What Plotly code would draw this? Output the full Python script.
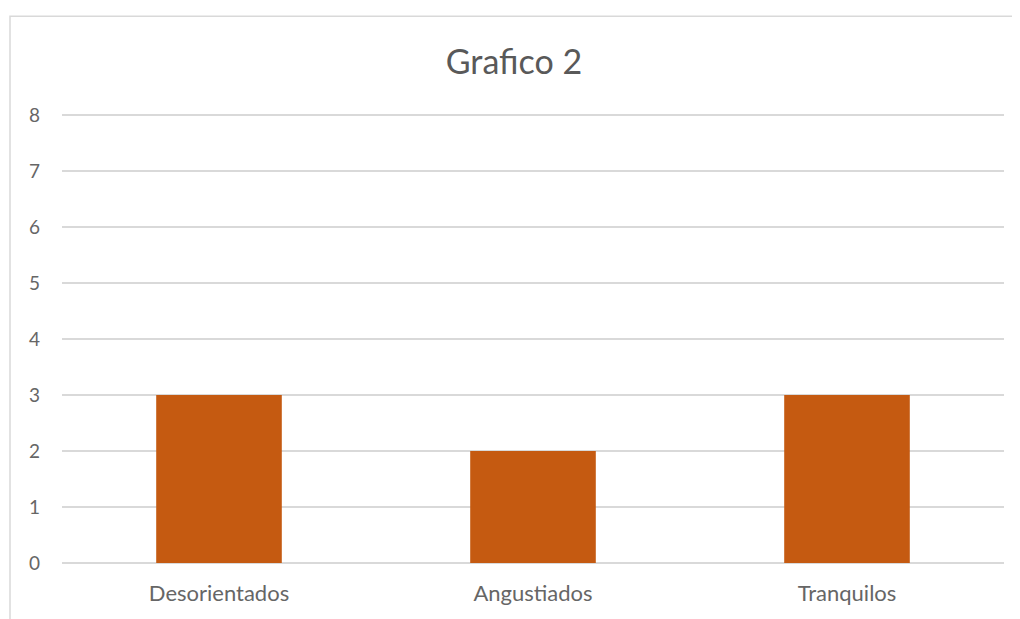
import plotly.graph_objects as go

categories = ["Desorientados", "Angustiados", "Tranquilos"]
values = [3, 2, 3]
y_ticks = [0, 1, 2, 3, 4, 5, 6, 7, 8]

OFF = 8  # default page body margin
W, H = 1020 - OFF, 619 - OFF
ymax = 8.02
ml = 62 - OFF
mr = W - (1004 - OFF)
mb = H - (563 - OFF)
ph = (563 - 115) * ymax / 8
mt = H - mb - ph
pw = W - ml - mr

fig = go.Figure(go.Bar(
    x=categories, y=values,
    marker=dict(color="#C55A11", line=dict(width=0)),
    hoverinfo="x+y",
))

# chart border (cropped at right/bottom)
bx0 = (10 - OFF - ml) / pw
by1 = (H - (16 - OFF) - mb) / ph
fig.add_shape(type="rect", xref="paper", yref="paper",
              x0=bx0, x1=(W + 20 - ml) / pw, y0=(-20 - mb) / ph, y1=by1,
              line=dict(color="#d9d9d9", width=1.5), fillcolor="rgba(0,0,0,0)", layer="below")

FONT = "Lato, Open Sans, sans-serif"
TICK = "#666666"
fig.update_layout(
    width=W, height=H,
    margin=dict(l=ml, r=mr, t=mt, b=mb, pad=0),
    paper_bgcolor="white", plot_bgcolor="white",
    title=dict(text="Grafico 2", x=0.5, xanchor="center", y=1 - (62 - OFF) / H, yanchor="middle",
               font=dict(family=FONT, size=34, color="#595959")),
    bargap=0.6,
    showlegend=False,
    font=dict(family=FONT, color=TICK, size=19),
    xaxis=dict(showgrid=False, showline=False, ticks="", ticklabelstandoff=15,
               tickfont=dict(family=FONT, size=22, color=TICK)),
    yaxis=dict(range=[0, ymax], tickvals=y_ticks, showgrid=True, gridcolor="#d9d9d9", gridwidth=1.5,
               zeroline=True, zerolinecolor="#d9d9d9", zerolinewidth=1.5,
               showline=False, ticks="", ticklabelstandoff=21,
               tickfont=dict(family=FONT, size=19, color=TICK)),
)

fig.write_html("out.html")
